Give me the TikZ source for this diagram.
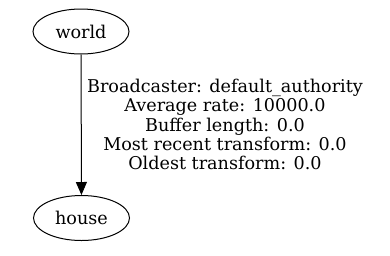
\documentclass[tikz,border=0pt]{standalone}
\usepackage{fontspec}
\setmainfont{DejaVu Serif}
\usetikzlibrary{arrows.meta,shapes.geometric}
\begin{document}
\begin{tikzpicture}[x=1pt,y=-1pt,
  gnode/.style={draw,ellipse,line width=1pt,minimum width=96pt,minimum height=45pt,inner sep=0pt,font=\fontsize{17.6}{20}\selectfont},
  edgelbl/.style={align=center,font=\fontsize{17.6}{19.4}\selectfont,inner sep=0pt},
  conn/.style={line width=1pt,-{Triangle[length=13pt,width=11pt]}}]
\useasboundingbox (0,0) rectangle (390,255);
\node[gnode] (world) at (81,31.5) {world};
\node[gnode] (house) at (81.5,218) {house};
\draw[conn] (world) -- (house);
\node[edgelbl] (lbl) at (225,124.5) {Broadcaster: default\_authority\\Average rate: 10000.0\\Buffer length: 0.0\\Most recent transform: 0.0\\Oldest transform: 0.0};
\end{tikzpicture}
\end{document}
